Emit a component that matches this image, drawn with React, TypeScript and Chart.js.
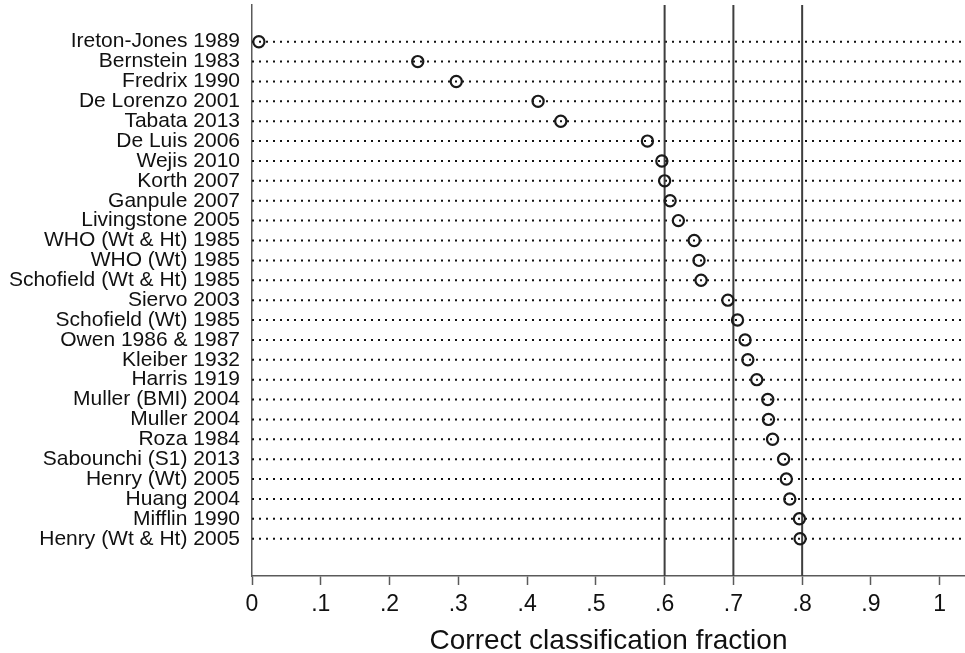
import React, { useEffect, useRef } from "react";
import { Chart, registerables } from "chart.js";

Chart.register(...registerables);

const categories: string[] = [
  "Ireton-Jones 1989",
  "Bernstein 1983",
  "Fredrix 1990",
  "De Lorenzo 2001",
  "Tabata 2013",
  "De Luis 2006",
  "Wejis 2010",
  "Korth 2007",
  "Ganpule 2007",
  "Livingstone 2005",
  "WHO (Wt & Ht) 1985",
  "WHO (Wt) 1985",
  "Schofield (Wt & Ht) 1985",
  "Siervo 2003",
  "Schofield (Wt) 1985",
  "Owen 1986 & 1987",
  "Kleiber 1932",
  "Harris 1919",
  "Muller (BMI) 2004",
  "Muller 2004",
  "Roza 1984",
  "Sabounchi (S1) 2013",
  "Henry (Wt) 2005",
  "Huang 2004",
  "Mifflin 1990",
  "Henry (Wt & Ht) 2005",
];

const fractions: number[] = [
  0.010, 0.241, 0.297, 0.416, 0.449, 0.575, 0.596, 0.600, 0.608, 0.620,
  0.643, 0.650, 0.653, 0.692, 0.706, 0.717, 0.721, 0.734, 0.750, 0.751,
  0.757, 0.773, 0.777, 0.782, 0.796, 0.797,
];

const referenceLines: number[] = [0.6, 0.7, 0.8];

const xTickValues: number[] = [0, 0.1, 0.2, 0.3, 0.4, 0.5, 0.6, 0.7, 0.8, 0.9, 1];
const xTickLabels: string[] = ["0", ".1", ".2", ".3", ".4", ".5", ".6", ".7", ".8", ".9", "1"];

const xTitle = "Correct classification fraction";

const X_MIN = 0;
const X_MAX = 1.0368;
const Y_MIN = -1.846;
const Y_MAX = 26.876;

const FONT = "'Liberation Sans', Arial, Helvetica, sans-serif";

export default function App() {
  const canvasRef = useRef<HTMLCanvasElement | null>(null);

  useEffect(() => {
    const canvas = canvasRef.current;
    if (!canvas) return;

    const guideSets = categories.map((_, i) => ({
      type: "line" as const,
      data: [
        { x: X_MIN, y: i },
        { x: X_MAX, y: i },
      ],
      borderColor: "#111111",
      borderWidth: 2,
      borderDash: [2, 5],
      pointRadius: 0,
      fill: false,
      showLine: true,
      order: 3,
    }));

    const refSets = referenceLines.map((v) => ({
      type: "line" as const,
      data: [
        { x: v, y: Y_MIN },
        { x: v, y: Y_MAX },
      ],
      borderColor: "#3f3f3f",
      borderWidth: 2,
      pointRadius: 0,
      fill: false,
      showLine: true,
      order: 2,
    }));

    const markerSet = {
      type: "scatter" as const,
      data: fractions.map((v, i) => ({ x: v, y: i })),
      borderColor: "#1a1a1a",
      backgroundColor: "rgba(0,0,0,0)",
      pointBackgroundColor: "rgba(0,0,0,0)",
      pointBorderColor: "#1a1a1a",
      pointBorderWidth: 2.2,
      pointRadius: 5.6,
      pointStyle: "circle",
      showLine: false,
      order: 1,
    };

    const chart = new Chart(canvas, {
      type: "scatter",
      data: { datasets: [markerSet, ...refSets, ...guideSets] as any },
      options: {
        animation: false,
        responsive: false,
        devicePixelRatio: 1,
        layout: { autoPadding: false, padding: { top: 5, left: 0, right: 0, bottom: 0 } },
        plugins: {
          legend: { display: false },
          tooltip: { enabled: false },
        },
        scales: {
          x: {
            type: "linear",
            min: X_MIN,
            max: X_MAX,
            afterBuildTicks: (axis: any) => {
              axis.ticks = xTickValues.map((v) => ({ value: v }));
            },
            afterFit: (axis: any) => {
              axis.height = 77;
              axis.paddingLeft = 0;
              axis.paddingRight = 0;
              axis.paddingTop = 0;
              axis.paddingBottom = 0;
            },
            ticks: {
              autoSkip: false,
              maxRotation: 0,
              minRotation: 0,
              padding: 6,
              color: "#111111",
              font: { family: FONT, size: 23 },
              callback: (v: any) => {
                const idx = xTickValues.findIndex((t) => Math.abs(t - Number(v)) < 1e-9);
                return idx >= 0 ? xTickLabels[idx] : "";
              },
            },
            grid: {
              display: true,
              drawOnChartArea: false,
              drawTicks: true,
              tickLength: 9,
              tickWidth: 1.5,
              tickColor: "#5a5a5a",
              color: "#5a5a5a",
            },
            border: { display: true, color: "#5a5a5a", width: 1.5 },
            title: {
              display: true,
              text: xTitle,
              color: "#111111",
              font: { family: FONT, size: 28, lineHeight: 0.85 },
              padding: { top: 0, bottom: 0 },
            },
          },
          y: {
            type: "linear",
            reverse: true,
            min: Y_MIN,
            max: Y_MAX,
            afterBuildTicks: (axis: any) => {
              axis.ticks = categories.map((_, i) => ({ value: i }));
            },
            afterFit: (axis: any) => {
              axis.width = 252;
              axis.paddingLeft = 0;
              axis.paddingRight = 0;
              axis.paddingTop = 0;
              axis.paddingBottom = 0;
            },
            ticks: {
              autoSkip: false,
              padding: 12,
              color: "#111111",
              font: { family: FONT, size: 21 },
              callback: (v: any) => categories[Math.round(Number(v))] ?? "",
            },
            grid: { display: false, drawTicks: false },
            border: { display: true, color: "#5a5a5a", width: 1.5 },
          },
        },
      } as any,
    });

    return () => {
      chart.destroy();
    };
  }, []);

  return (
    <div style={{ position: "absolute", left: 0, top: 0, width: 965, height: 653, background: "#ffffff" }}>
      <canvas ref={canvasRef} width={965} height={653} style={{ display: "block" }} />
    </div>
  );
}
